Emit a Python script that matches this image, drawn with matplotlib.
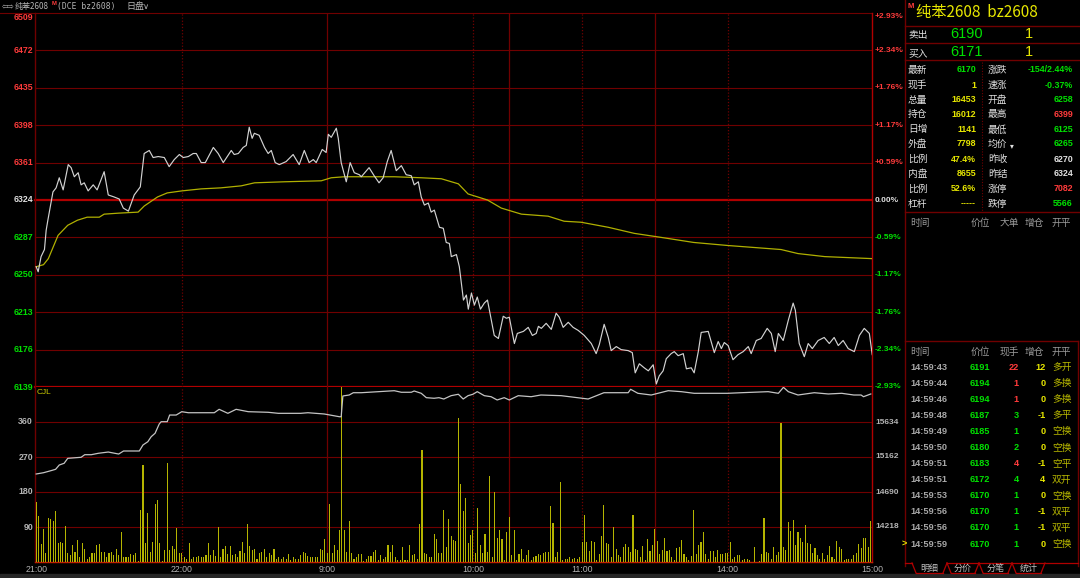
import numpy as np
import matplotlib
matplotlib.use('Agg')
import matplotlib.pyplot as plt
from matplotlib.lines import Line2D
from matplotlib.transforms import blended_transform_factory as blend

W, H = 1080, 578
CJK = ['Noto Sans CJK SC', 'DejaVu Sans']
NUM = ['Liberation Sans', 'DejaVu Sans']

# ---------------- data ----------------
prev_settle = 6324
price_ticks = [6139, 6176, 6213, 6250, 6287, 6324, 6361, 6398, 6435, 6472, 6509]
pct_labels = ['-2.93%', '-2.34%', '-1.76%', '-1.17%', '-0.59%', '0.00%',
              '+0.59%', '+1.17%', '+1.76%', '+2.34%', '+2.93%']
vol_ticks = [90, 180, 270, 360]
oi_tick_labels = [14218, 14690, 15162, 15634]
time_ticks = [0, 60, 120, 180, 225, 285, 344.5]
time_labels = ['21:00', '22:00', '9:00', '10:00', '11:00', '14:00', '15:00']
solid_breaks = [120, 195, 255]
dotted_hours = [60, 180, 225, 285]

price_pts = [(0, 6258), (0.8, 6253), (2, 6268), (3.4, 6275), (4.1, 6294), (4.8, 6304), (6.9, 6332), (8.2, 6336),
             (9.5, 6346), (11.1, 6334), (13.2, 6359), (14.4, 6356), (15.7, 6347), (17.3, 6351), (18.5, 6339),
             (19.8, 6341), (21.4, 6333), (23.5, 6339), (25.1, 6334), (28, 6352), (29.7, 6329), (32.1, 6327),
             (34.2, 6325), (35.9, 6316), (38, 6313), (40.4, 6329), (42.9, 6337), (44.5, 6370), (46.6, 6373),
             (48.2, 6366), (50.3, 6367), (52.8, 6366), (54.8, 6357), (56.9, 6364), (59, 6369), (60.6, 6366),
             (62.7, 6367), (64.7, 6370), (66, 6370), (68, 6361), (69.7, 6361), (73, 6376), (75, 6370), (77.1, 6361),
             (80.4, 6373), (81.6, 6369), (83.3, 6370), (85.3, 6376), (86.6, 6378), (87.8, 6396), (89, 6385),
             (89.9, 6390), (91.9, 6388), (94.1, 6376), (95.6, 6370), (96.9, 6373), (98.5, 6361), (100.2, 6359),
             (103, 6362), (105.9, 6369), (108.4, 6359), (110.5, 6373), (112.5, 6361), (114.2, 6364), (115.4, 6361),
             (117.9, 6374), (119.5, 6371), (120.4, 6389), (121.6, 6386), (123.7, 6395), (124.5, 6385), (125.7, 6361),
             (127.8, 6342), (129.4, 6361), (131.1, 6351), (133.2, 6349), (134, 6347), (137.2, 6356), (139.3, 6348),
             (141.3, 6341), (143, 6346), (144.7, 6362), (146.3, 6373), (148.4, 6353), (150.5, 6358), (152.5, 6349),
             (154.6, 6348), (155.8, 6339), (157.5, 6342), (158.7, 6327), (160, 6319), (161.6, 6321), (162.8, 6312),
             (164.1, 6314), (166.2, 6297), (167.8, 6296), (169, 6282), (170.3, 6281), (171.1, 6268), (173.2, 6270),
             (174.4, 6258), (176.1, 6225), (177.3, 6230), (178.1, 6216), (179.4, 6232), (180.6, 6220), (181.8, 6228),
             (183.1, 6216), (184.7, 6222), (186, 6225), (187.6, 6205), (188.8, 6190), (190.5, 6187), (192.5, 6209),
             (193.8, 6207), (195, 6208), (197.1, 6182), (198.3, 6192), (200.8, 6194), (202.8, 6198), (204.5, 6190),
             (206.1, 6192), (207, 6199), (208.2, 6197), (210.2, 6202), (212.3, 6196), (214.3, 6212), (215.6, 6208),
             (217.2, 6198), (219.3, 6203), (221.3, 6198), (223.4, 6195), (225.9, 6190), (228.8, 6182), (230.8, 6172),
             (232.1, 6181), (234.1, 6201), (235.8, 6188), (237, 6175), (239.1, 6179), (241.1, 6176), (244, 6175),
             (245.7, 6173), (246.9, 6153), (248.6, 6162), (250.6, 6158), (252.3, 6155), (254.3, 6161), (255.6, 6142),
             (256.8, 6150), (258.4, 6155), (259.7, 6167), (261.7, 6172), (263, 6174), (264.6, 6170), (266.7, 6172),
             (268, 6157), (270, 6158), (271.2, 6153), (272.9, 6174), (274.1, 6193), (277, 6194), (279.5, 6173),
             (281.1, 6184), (282.4, 6177), (283.6, 6183), (285.2, 6180), (287.2, 6166), (289.3, 6171), (291.4, 6174),
             (293.5, 6179), (294.7, 6172), (296.8, 6185), (298.8, 6187), (301.3, 6197), (303, 6192), (304.6, 6174),
             (305.9, 6192), (307.9, 6185), (310, 6205), (312, 6222), (312.9, 6215), (314.5, 6182), (316.6, 6169),
             (318.2, 6182), (319.9, 6177), (322.3, 6185), (324.8, 6188), (326.9, 6182), (328.9, 6188), (330.6, 6180),
             (332.6, 6185), (334.7, 6177), (337.2, 6174), (339.3, 6190), (341.3, 6197), (343.4, 6192), (344.6, 6171)]

avg_pts = [(0, 6258), (3, 6260), (5, 6266), (9, 6289), (13, 6299), (17, 6304), (21, 6307), (26, 6307), (28, 6310),
           (34, 6311), (42, 6312), (44.5, 6318), (50, 6327), (54, 6331), (60, 6333), (68, 6335), (76, 6336),
           (84.5, 6338), (90, 6341), (102, 6342), (117.5, 6343), (121.6, 6346), (127, 6347), (134, 6347),
           (147.6, 6347), (158.7, 6346), (167, 6345), (174, 6340), (178, 6330), (186, 6324), (191.7, 6316),
           (200, 6310), (211, 6308), (217.6, 6303), (224.6, 6302), (235.8, 6297), (246.5, 6291), (257.6, 6287),
           (271, 6282), (285, 6279), (307, 6275), (314, 6271), (325, 6268), (344.6, 6266)]

oi_pts = [(0, 14933), (3, 14950), (6, 14977), (8, 14996), (9.5, 15054), (11.5, 15077), (13, 15144), (18.5, 15158),
          (20, 15193), (22.7, 15193), (25.6, 15212), (29.7, 15229), (34, 15202), (36, 15243), (42.5, 15243),
          (44, 15324), (46, 15368), (47.4, 15436), (49, 15482), (50.7, 15607), (51.5, 15638), (54, 15638),
          (55, 15728), (57.7, 15728), (60, 15773), (62.7, 15759), (68, 15759), (73.4, 15759), (75.4, 15805),
          (79, 15751), (82.4, 15805), (87.4, 15773), (95.6, 15765), (99.8, 15751), (109, 15751), (112, 15759),
          (118.7, 15742), (125, 15705), (125.7, 15705), (126.4, 15985), (129, 15998), (130.7, 16029), (134, 16029),
          (147.6, 16056), (150.5, 16035), (154.6, 16035), (155.8, 16052), (158.7, 16021), (160.8, 15962),
          (164, 15954), (166, 15962), (168, 15944), (171, 15989), (174, 16008), (176, 15944), (178, 15989),
          (180, 16008), (181.8, 16043), (184.7, 15989), (187.5, 15975), (190, 15931), (192.9, 15962), (195, 15931),
          (198.7, 15989), (204, 15975), (208, 15998), (216.4, 15989), (227.5, 15944), (234, 16029), (244, 16029),
          (245, 16075), (248, 16021), (253.5, 15998), (260.5, 16056), (265.9, 16043), (271.2, 16021), (277, 16021),
          (285, 16021), (290.6, 16029), (301.7, 16043), (305.9, 16021), (308, 16102), (310, 16043), (314, 15998),
          (320.7, 16029), (326.5, 16012), (332, 16021), (337, 15998), (340, 15998), (341, 15975), (344, 16012)]

vol_night = [155, 118, 46, 84, 24, 112, 110, 106, 131, 50,
             52, 48, 93, 24, 18, 45, 27, 57, 14, 48,
             33, 9, 12, 22, 24, 45, 46, 27, 26, 14,
             24, 27, 17, 33, 17, 76, 14, 14, 12, 21,
             19, 22, 3, 134, 250, 48, 125, 27, 51, 149,
             159, 48, 2, 31, 255, 31, 41, 33, 87, 24,
             24, 14, 9, 48, 9, 12, 12, 15, 12, 14,
             18, 48, 18, 31, 15, 89, 14, 33, 41, 21,
             41, 18, 21, 12, 29, 51, 22, 98, 41, 31,
             34, 9, 22, 27, 34, 14, 22, 17, 34, 9,
             12, 9, 12, 7, 21, 5, 14, 7, 9, 18,
             27, 24, 15, 12, 12, 12, 14, 34, 31, 58]
vol_morning1 = [24, 149, 24, 44, 31, 82, 820, 82, 27, 106, 24, 9, 14, 20,
                21, 3, 7, 15, 15, 27, 31, 5, 17, 9,
                14, 43, 26, 43, 12, 5, 5, 38, 5, 5,
                45, 17, 21, 9, 99, 288, 22, 21, 12, 12,
                72, 58, 24, 22, 135, 39, 110, 67, 57, 53,
                371, 200, 132, 165, 48, 69, 82, 22, 140, 43,
                22, 72, 26, 222, 14, 181, 63, 82, 58, 5, 78]
vol_morning2 = [117, 19, 82, 5, 21, 34, 9, 17, 31, 5,
                14, 15, 21, 19, 22, 27, 26, 144, 101, 12,
                26, 207, 5, 9, 7, 12, 7, 10, 9, 14,
                52, 121, 52, 29, 54, 51, 5, 21, 67, 146,
                48, 46, 14, 89, 33, 17, 14, 39, 46, 38,
                27, 121, 33, 31, 12, 41, 5, 58, 29, 43]
vol_afternoon = [86, 55, 21, 31, 63, 29, 31, 12, 5, 35,
                 38, 57, 21, 12, 5, 15, 134, 21, 44, 52,
                 78, 21, 9, 29, 29, 12, 31,
                 21, 21, 24, 22, 51, 9, 12, 18, 18, 5,
                 9, 7, 5, 1, 38, 1, 3, 21, 112, 27,
                 22, 9, 38, 18, 27, 357, 38, 31, 104, 81,
                 108, 44, 77, 61, 51, 94, 48, 46, 22, 35,
                 18, 9, 22, 7, 18, 41, 14, 7, 53, 38,
                 33, 5, 7, 9, 7, 18, 24, 46, 35, 61,
                 61, 39, 106]

title_cn = '纯苯2608'
code = 'bz2608'
ask_price, ask_vol = 6190, 1
bid_price, bid_vol = 6171, 1
stats_left = [('最新', '6170', 'g'), ('现手', '1', 'y'), ('总量', '16453', 'y'), ('持仓', '16012', 'y'),
              ('日增', '1141', 'y'), ('外盘', '7798', 'y'), ('比例', '47.4%', 'y'), ('内盘', '8655', 'y'),
              ('比例', '52.6%', 'y'), ('杠杆', '-----', 'y')]
stats_right = [('涨跌', '-154/2.44%', 'g'), ('速涨', '-0.37%', 'g'), ('开盘', '6258', 'g'), ('最高', '6399', 'r'),
               ('最低', '6125', 'g'), ('均价', '6265', 'g'), ('昨收', '6270', 'w'), ('昨结', '6324', 'w'),
               ('涨停', '7082', 'r'), ('跌停', '5566', 'g')]
tick_times = ['14:59:43', '14:59:44', '14:59:46', '14:59:48', '14:59:49', '14:59:50',
              '14:59:51', '14:59:51', '14:59:53', '14:59:56', '14:59:56', '14:59:59']
tick_prices = [6191, 6194, 6194, 6187, 6185, 6180, 6183, 6172, 6170, 6170, 6170, 6170]
tick_hands = [22, 1, 1, 3, 1, 2, 4, 4, 1, 1, 1, 1]
tick_side = ['r', 'r', 'r', 'g', 'g', 'g', 'r', 'g', 'g', 'g', 'g', 'g']
tick_oi = [12, 0, 0, -1, 0, 0, -1, 4, 0, -1, -1, 0]
tick_kind = ['多开', '多换', '多换', '多平', '空换', '空换', '空平', '双开', '空换', '双平', '双平', '空换']
tabs = ['明细', '分价', '分笔', '统计']

# ---------------- colours ----------------
RED = '#ff3b3b'
GREEN = '#00e000'
YEL = '#e6e600'
WHITE = '#e0e0e0'
GRAY = '#b4b4b4'
GRID = '#700000'
BRED = '#b00000'
CMAP = {'g': GREEN, 'y': YEL, 'r': RED, 'w': WHITE}

fig = plt.figure(figsize=(W / 100, H / 100), dpi=100, facecolor='black')


def rect(l, t, r, b):
    return [l / W, 1 - b / H, (r - l) / W, (b - t) / H]


def T(x, y, s, color, size, ha='left', fam=NUM, weight='normal', va='center'):
    fig.text(x / W, 1 - y / H, s, color=color, fontsize=size, ha=ha, va=va,
             family=fam, fontweight=weight)


def L(x0, y0, x1, y1, color=GRID, lw=0.8, ls='-'):
    fig.add_artist(Line2D([x0 / W, x1 / W], [1 - y0 / H, 1 - y1 / H], color=color, lw=lw, ls=ls))


XL = (-0.5, 344.5)
ax = fig.add_axes(rect(35, 13, 872, 387))
axv = fig.add_axes(rect(35, 387, 872, 562))
for a in (ax, axv):
    a.set_facecolor('black')
    a.set_xlim(*XL)
    a.set_xticks([])
    a.set_yticks([])
    for s in a.spines.values():
        s.set_visible(False)
ax.set_ylim(price_ticks[0], price_ticks[-1])
axv.set_ylim(0, 450)

# price grid
for p in price_ticks:
    if p == prev_settle or p == price_ticks[0]:
        ax.axhline(p, color=BRED, lw=1.6, clip_on=False, zorder=1)
    else:
        ax.axhline(p, color=GRID, lw=0.8, clip_on=False, zorder=1)
for a in (ax, axv):
    for m in solid_breaks:
        a.axvline(m, color=GRID, lw=0.9, zorder=1)
    for m in dotted_hours:
        a.axvline(m, color=GRID, lw=0.9, ls=(0, (1, 1.5)), zorder=1)
    a.axvline(XL[0], color=GRID, lw=1.0, clip_on=False, zorder=1)
    a.axvline(XL[1], color=BRED, lw=1.0, clip_on=False, zorder=1)

pt, pv = zip(*price_pts)
ax.plot(pt, pv, color='#d2d2d2', lw=0.85, zorder=3)
at, avv = zip(*avg_pts)
ax.plot(at, avv, color='#b0b000', lw=0.9, zorder=2)

# volume panel
for v in vol_ticks:
    axv.axhline(v, color=GRID, lw=0.8, zorder=1)
axv.axhline(0, color='#c02000', lw=1.0, clip_on=False, zorder=1)
vols = vol_night + vol_morning1 + vol_morning2 + vol_afternoon
axv.bar(np.arange(len(vols)), vols, width=0.45, color='#b4b400', linewidth=0, zorder=2)

axo = axv.twinx()
axo.set_xlim(*XL)
slope = (oi_tick_labels[-1] - oi_tick_labels[0]) / (vol_ticks[-1] - vol_ticks[0])
oi0 = oi_tick_labels[0] - vol_ticks[0] * slope
axo.set_ylim(oi0, oi0 + 450 * slope)
axo.set_axis_off()
ot, ov = zip(*oi_pts)
axo.plot(ot, ov, color='#c4c4c4', lw=0.9, zorder=3)

# axis labels
tp = blend(fig.transFigure, ax.transData)
for i, p in enumerate(price_ticks):
    col = RED if p > prev_settle else (WHITE if p == prev_settle else GREEN)
    va = 'top' if i == len(price_ticks) - 1 else 'center'
    ax.text(33 / W, p, str(p), transform=tp, ha='right', va=va, color=col, fontsize=6.3,
            family=NUM, fontweight='bold')
    ax.text(875 / W, p, pct_labels[i], transform=tp, ha='left', va=va, color=col, fontsize=6.0,
            family=NUM, fontweight='bold')
tv = blend(fig.transFigure, axv.transData)
for v, o in zip(vol_ticks, oi_tick_labels):
    axv.text(33 / W, v, str(v), transform=tv, ha='right', va='center', color=GRAY, fontsize=6.3,
             family=NUM, fontweight='bold')
    axv.text(875 / W, v, str(o), transform=tv, ha='left', va='center', color=GRAY, fontsize=6.0,
             family=NUM, fontweight='bold')
T(37, 393, 'CJL', '#c8c800', 6.0, fam=NUM)
tx = blend(axv.transData, fig.transFigure)
for m, lab in zip(time_ticks, time_labels):
    axv.text(m, 1 - 569 / H, lab, transform=tx, ha='center', va='center', color=GRAY, fontsize=6.3,
             family=NUM)

# header strip
T(2, 6.5, '⇦⇨', GRAY, 5.5, fam=['DejaVu Sans'])
T(15, 6.5, title_cn, GRAY, 5.8, fam=CJK)
T(51.5, 3.5, 'M', RED, 4.2, fam=NUM, weight='bold')
T(57, 6.5, '(DCE ' + code + ')', GRAY, 5.8, fam=['DejaVu Sans Mono'])
T(126, 6.5, '日盘', GRAY, 6.5, fam=CJK)
T(143, 6.5, '∨', GRAY, 6.0, fam=['DejaVu Sans'])
L(0, 13, 35, 13, GRID, 0.8)

# right panel
PL = 905
L(PL, 0, PL, 566, GRID, 1.0)
for y in (26, 43, 60, 212):
    L(PL, y, W, y, GRID, 1.0)
L(982, 62, 982, 212, GRID, 0.8, ls=(0, (1, 1.5)))
L(PL, 341, 1078, 341, GRID, 1.0)
L(1078, 341, 1078, 566, GRID, 1.0)

T(907, 6, 'M', RED, 5.5, weight='bold')
T(916, 12.5, title_cn + '  ' + code, YEL, 11, fam=['Noto Sans CJK SC', 'Liberation Sans'])
T(908, 35, '卖出', WHITE, 7, fam=CJK)
T(950, 34, str(ask_price), GREEN, 10.5)
T(1025, 34, str(ask_vol), YEL, 10.5)
T(908, 53, '买入', WHITE, 7, fam=CJK)
T(950, 52, str(bid_price), GREEN, 10.5)
T(1025, 52, str(bid_vol), YEL, 10.5)

row_y = [70, 85, 99.5, 114.5, 129.5, 144, 159, 174, 188.5, 203.5]
for y, (lab, val, c) in zip(row_y, stats_left):
    T(908, y, lab, WHITE, 7, fam=CJK)
    T(976, y, val, CMAP[c], 6.4, ha='right', weight='bold')
for y, (lab, val, c) in zip(row_y, stats_right):
    T(988, y, lab, WHITE, 7, fam=CJK)
    T(1073, y, val, CMAP[c], 6.4, ha='right', weight='bold')
T(1010, 146, '▾', WHITE, 5.5, fam=['DejaVu Sans'])

hdr1 = ['时间', '价位', '大单', '增仓', '开平']
hdr2 = ['时间', '价位', '现手', '增仓', '开平']
hx = [910, 971, 1000, 1025, 1052]
for s, x in zip(hdr1, hx):
    T(x, 223, s, '#9a9a9a', 7, fam=CJK)
for s, x in zip(hdr2, hx):
    T(x, 352, s, '#9a9a9a', 7, fam=CJK)

for i in range(len(tick_times)):
    y = 367 + i * 16.1
    T(910, y, tick_times[i], '#a8a8a8', 6.6, weight='bold')
    T(990, y, str(tick_prices[i]), GREEN, 6.6, ha='right', weight='bold')
    T(1019, y, str(tick_hands[i]), CMAP[tick_side[i]], 6.6, ha='right', weight='bold')
    T(1045.5, y, str(tick_oi[i]), YEL, 6.6, ha='right', weight='bold')
    T(1052, y, tick_kind[i], '#b8b800', 7, fam=CJK)
T(902, 367 + 11 * 16.1, '>', YEL, 6.5, weight='bold')

# tabs
tab_x = [(912, 947), (947, 979), (979, 1012), (1012, 1045)]
for (xl, xr), s in zip(tab_x, tabs):
    L(xl, 563, xl + 4, 573, BRED, 0.9)
    L(xl + 4, 573, xr - 4, 573, BRED, 0.9)
    L(xr - 4, 573, xr, 563, BRED, 0.9)
    T((xl + xr) / 2, 568, s, '#c0c0c0', 6.5, ha='center', fam=CJK)
L(PL, 563, 912, 563, BRED, 0.9)
L(947, 563, 1078, 563, BRED, 0.9)

# bottom strip
fig.add_artist(plt.Rectangle((0, 0), 1, 4 / H, transform=fig.transFigure, color='#262626', zorder=0))

fig.savefig('out.png', dpi=100, facecolor='black')
